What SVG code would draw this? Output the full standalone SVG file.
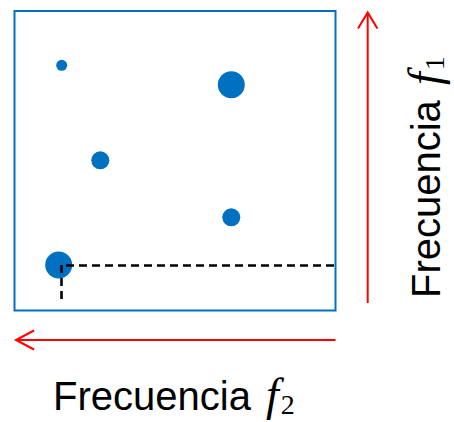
<svg xmlns="http://www.w3.org/2000/svg" width="454" height="422" viewBox="0 0 454 422">
<style>
.dot{fill:#0070C0}
.dash{stroke:#000;stroke-width:2.6;stroke-dasharray:8 5;fill:none}
.axis{stroke:#FF0000;stroke-width:2;fill:none}
.lbl{font-family:"Liberation Sans",Arial,sans-serif;font-size:40px;fill:#000}
.it{font-family:"Liberation Serif","Times New Roman",serif;font-style:italic;font-size:46px}
.sub{font-family:"Liberation Serif","Times New Roman",serif;font-size:28px}
</style>
<g id="frame"><rect x="14.5" y="11" width="321" height="299.5" fill="#fff" stroke="#0070C0" stroke-width="2"/></g>
<g id="dots">
<circle class="dot" cx="61.7" cy="65.3" r="5.5"/>
<circle class="dot" cx="231.3" cy="84.7" r="13.5"/>
<circle class="dot" cx="100.3" cy="160.3" r="9"/>
<circle class="dot" cx="231.3" cy="217.3" r="9"/>
<circle class="dot" cx="58.7" cy="265" r="13.5"/>
</g>
<g id="connectors">
<path class="dash" d="M66 265.5H335"/>
<path class="dash" d="M61.5 265V303"/>
<path class="axis" d="M367.7 303V12.5M358 28.5L367.7 12.5L377.4 28.5"/>
<path class="axis" d="M335.5 340H16M34 330.5L16 340L34 349.5"/>
</g>
<g id="label-f2"><text class="lbl" x="53" y="410">Frecuencia <tspan class="it" dx="4">f</tspan><tspan class="sub" dx="2" dy="4">2</tspan></text></g>
<g id="label-f1"><text class="lbl" transform="translate(440,298) rotate(-90)">Frecuencia <tspan class="it" dx="4">f</tspan><tspan class="sub" dx="2" dy="4">1</tspan></text></g>
</svg>
